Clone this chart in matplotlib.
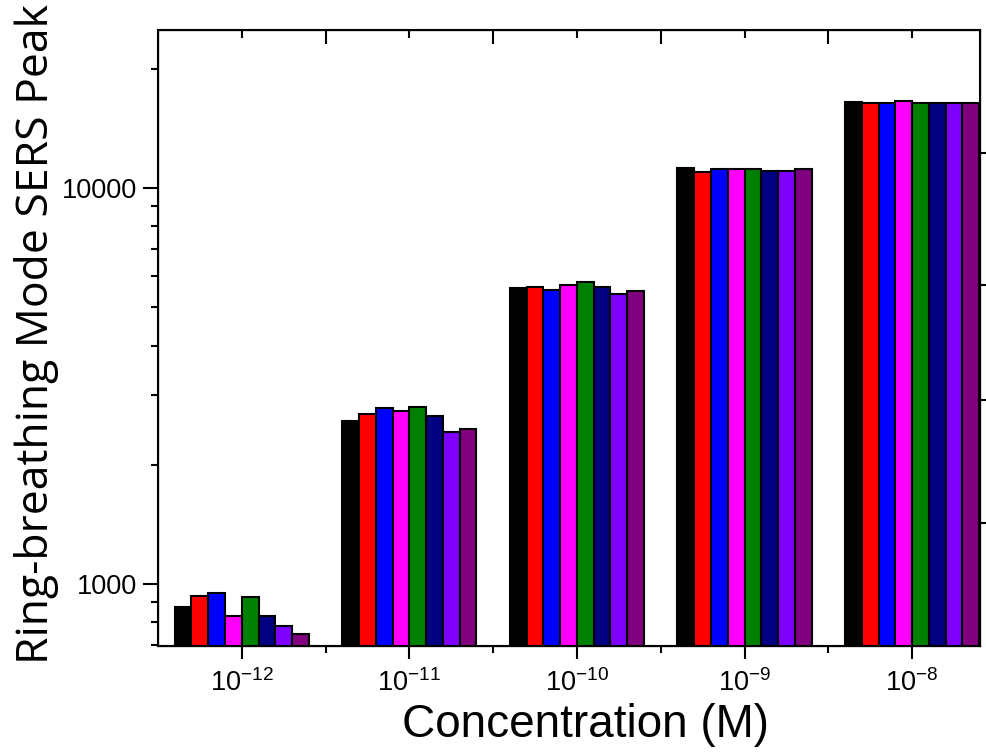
import numpy as np
import matplotlib
matplotlib.use('Agg')
import matplotlib.pyplot as plt
from matplotlib.ticker import LogLocator, NullFormatter, FixedLocator

plt.rcParams['font.family'] = ['Liberation Sans', 'DejaVu Sans']
plt.rcParams['mathtext.fontset'] = 'custom'
plt.rcParams['mathtext.rm'] = 'Liberation Sans'

# data
concentrations = [r'$\mathregular{10^{-12}}$', r'$\mathregular{10^{-11}}$', r'$\mathregular{10^{-10}}$',
                  r'$\mathregular{10^{-9}}$', r'$\mathregular{10^{-8}}$']
s1 = [875, 2580, 5590, 11230, 16490]
s2 = [933, 2690, 5620, 10980, 16390]
s3 = [949, 2780, 5525, 11170, 16390]
s4 = [830, 2735, 5690, 11170, 16590]
s5 = [927, 2800, 5790, 11170, 16390]
s6 = [830, 2655, 5620, 11040, 16390]
s7 = [783, 2420, 5400, 11040, 16390]
s8 = [748, 2465, 5495, 11170, 16390]
series = [s1, s2, s3, s4, s5, s6, s7, s8]
colors = ['#000000', '#ff0000', '#0000ff', '#ff00ff', '#008000', '#000080', '#8000ff', '#800080']

fig = plt.figure(figsize=(9.86, 7.54), dpi=100)
ax = fig.add_axes([0.1602, 0.1432, 0.8337, 0.8170])

x = np.arange(1, len(concentrations) + 1)
w = 0.1
for i, (vals, c) in enumerate(zip(series, colors)):
    ax.bar(x + (i - 3.5) * w, vals, width=w, color=c, edgecolor='black', linewidth=1.5, bottom=1)

ax.set_yscale('log')
ax.set_ylim(697, 25060)
ax.set_xlim(0.5, 5.405)

ax.set_yticks([1000, 10000])
ax.set_yticklabels(['1000', '10000'])
ax.yaxis.set_minor_locator(LogLocator(base=10, subs=np.arange(2, 10)))
ax.yaxis.set_minor_formatter(NullFormatter())

ax.set_xticks(x)
ax.set_xticklabels(concentrations)
ax.xaxis.set_minor_locator(FixedLocator(x[:-1] + 0.5))

ax.tick_params(axis='both', which='major', direction='out', width=1.5, labelsize=19.5)
ax.tick_params(axis='y', which='major', length=11, pad=4)
ax.tick_params(axis='x', which='major', length=9, pad=8)
ax.tick_params(axis='both', which='minor', direction='out', length=5, width=1.5)

for sp in ax.spines.values():
    sp.set_linewidth(1.5)

# mirrored ticks on top and right
top = ax.twiny()
top.set_xlim(ax.get_xlim())
top.set_xticks(x[:-1] + 0.5)
top.set_xticks(x, minor=True)
top.tick_params(axis='x', which='major', direction='in', length=10, width=1.5, labeltop=False)
top.tick_params(axis='x', which='minor', direction='in', length=6, width=1.5)

right = ax.twinx()
right.set_yscale('log')
right.set_ylim(ax.get_ylim())
right.yaxis.set_major_locator(FixedLocator([12250, 5690, 2915, 1425]))
right.yaxis.set_minor_locator(FixedLocator([]))
right.yaxis.set_major_formatter(NullFormatter())
right.tick_params(axis='y', direction='out', length=5, width=1.5)

ax.set_xlabel('Concentration (M)', fontsize=33)
ax.xaxis.set_label_coords(0.52, -0.092)
ax.set_ylabel('Ring-breathing Mode SERS Peak', fontsize=32, family=['Open Sans', 'DejaVu Sans'])
ax.yaxis.set_label_coords(-0.12, 0.507)

fig.savefig('out.png', dpi=100)
